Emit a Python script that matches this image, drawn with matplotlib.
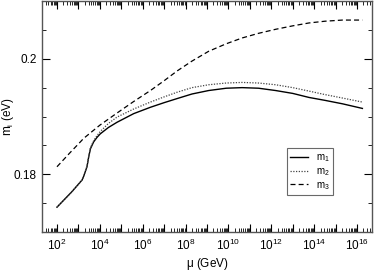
import numpy as np
import matplotlib
matplotlib.use("Agg")
import matplotlib.pyplot as plt
from matplotlib.ticker import LogLocator, FuncFormatter, MultipleLocator, NullFormatter

plt.rcParams['font.family'] = ['Liberation Sans', 'DejaVu Sans']
plt.rcParams['mathtext.fontset'] = 'custom'
plt.rcParams['mathtext.rm'] = 'Liberation Sans'
plt.rcParams['mathtext.it'] = 'Liberation Sans'

# log10(mu / GeV) and running masses (eV)
log_mu1 = [2.0, 2.7, 3.17, 3.24, 3.4, 3.48, 3.56, 3.71, 3.87, 4.02, 4.4, 4.8, 5.58, 6.36,
           7.0, 7.6, 8.3, 9.08, 9.9, 10.64, 11.4, 12.2, 13.0, 13.76, 14.5, 15.32, 16.25]
m1 = [0.1743, 0.1770, 0.1790, 0.1796, 0.1813, 0.1830, 0.1844, 0.1856, 0.1864, 0.1870,
      0.1881, 0.1890, 0.1905, 0.1916, 0.1924, 0.1931, 0.1939, 0.1945, 0.1949, 0.1950,
      0.1949, 0.1945, 0.1940, 0.1933, 0.1928, 0.1922, 0.1914]

log_mu2 = [2.0, 2.7, 3.17, 3.24, 3.4, 3.48, 3.56, 3.71, 3.87, 4.02, 4.4, 4.8, 5.58, 6.36,
           7.0, 7.6, 8.3, 9.08, 9.9, 10.64, 11.4, 12.2, 13.0, 13.76, 14.5, 15.32, 16.25]
m2 = [0.1743, 0.1770, 0.1790, 0.1796, 0.1814, 0.1831, 0.1846, 0.1858, 0.1867, 0.1874,
      0.1888, 0.1899, 0.1913, 0.1925, 0.1934, 0.1942, 0.1950, 0.1955, 0.1958, 0.1959,
      0.1958, 0.1955, 0.1950, 0.1944, 0.1938, 0.1932, 0.1925]

log_mu3 = [2.0, 2.6, 3.09, 3.24, 4.0, 4.8, 5.58, 6.36, 7.0, 7.61, 8.3, 9.08, 9.9, 10.64,
           11.4, 12.2, 13.0, 13.76, 14.5, 15.32, 16.25]
m3 = [0.1813, 0.1837, 0.1856, 0.1862, 0.1885, 0.1906, 0.1926, 0.1945, 0.1962, 0.1979,
      0.1996, 0.2013, 0.2026, 0.2036, 0.2044, 0.2051, 0.2057, 0.2062, 0.2065, 0.2067, 0.2067]

fig = plt.figure(figsize=(3.74, 2.72), dpi=100)
ax = fig.add_axes([0.1123, 0.147, 0.8824, 0.8493])

ax.plot(10 ** np.array(log_mu1), m1, color='black', lw=1.0, label='m$_1$')
ax.plot(10 ** np.array(log_mu2), m2, color='#444444', lw=0.9, linestyle=(0, (1, 1.2)), label='m$_2$')
ax.plot(10 ** np.array(log_mu3), m3, color='black', lw=0.9, dashes=(4, 2.5), label='m$_3$')

ax.set_xscale('log')
ax.set_xlim(20, 5e16)
ax.set_ylim(0.17, 0.21)

ax.xaxis.set_major_locator(LogLocator(base=10, numticks=30))
ax.xaxis.set_minor_locator(LogLocator(base=10, subs=np.arange(2, 10), numticks=30))
ax.xaxis.set_minor_formatter(NullFormatter())


def fmt(v, pos):
    e = int(round(np.log10(v)))
    return r'10$^{%d}$' % e if e % 2 == 0 else ''


ax.xaxis.set_major_formatter(FuncFormatter(fmt))
ax.yaxis.set_major_locator(MultipleLocator(0.02))
ax.yaxis.set_minor_locator(MultipleLocator(0.005))
ax.yaxis.set_major_formatter(FuncFormatter(lambda v, p: ('%g' % round(v, 3))))

ax.tick_params(which='both', direction='in', top=True, right=True, labelsize=8.5, pad=4)
ax.tick_params(which='major', length=6, width=0.8)
ax.tick_params(which='minor', length=3, width=0.6)
for s in ax.spines.values():
    s.set_linewidth(1.0)
    s.set_color('#555555')

ax.set_xlabel(r'$\mu$ (GeV)', fontsize=8.5, labelpad=2)
ax.set_ylabel('m$_i$ (eV)', fontsize=8.5, labelpad=0)
ax.yaxis.set_label_coords(-0.08, 0.5)

leg = ax.legend(loc='upper left', bbox_to_anchor=(0.741, 0.362), borderaxespad=0,
                fontsize=7, frameon=True, fancybox=False, handlelength=1.8,
                handletextpad=0.8, labelspacing=0.2, borderpad=0.4)
leg.get_frame().set_edgecolor('#444444')
leg.get_frame().set_linewidth(0.8)

fig.savefig('out.png', dpi=100)
